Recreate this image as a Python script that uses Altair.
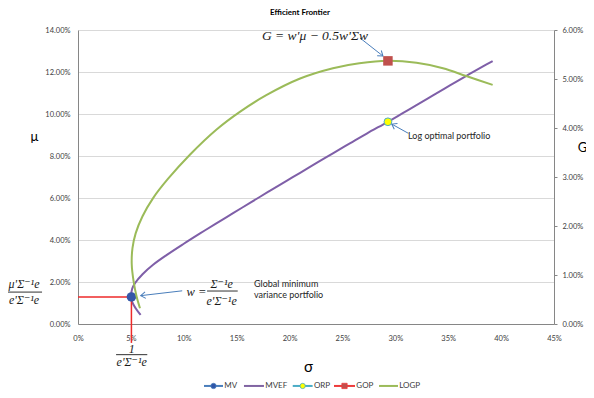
import math
import altair as alt
import pandas as pd

# ---------------- data ----------------
# Mean-variance efficient frontier (sigma %, mu %)
mvef_sigma = [5.92, 5.45, 5.12, 5.03, 5.12, 5.40, 6.10, 7.10, 8.40, 10.0, 11.5, 13.0,
              14.7, 16.3, 18.0, 19.6, 21.0, 22.6, 24.1, 25.7, 27.3, 29.3, 30.7, 32.0,
              33.6, 35.2, 36.8, 38.2, 39.2]
mvef_mu = [0.43, 0.75, 1.05, 1.31, 1.68, 1.95, 2.37, 2.82, 3.29, 3.82, 4.30, 4.77,
           5.29, 5.78, 6.30, 6.78, 7.20, 7.68, 8.13, 8.60, 9.07, 9.63, 10.04, 10.42,
           10.90, 11.37, 11.84, 12.24, 12.52]

# Log growth along the frontier (sigma %, G %) on the right axis
logp_sigma = [5.86, 5.54, 5.25, 5.08, 5.15, 5.45, 6.10, 7.10, 8.50, 10.6, 13.1, 15.3,
              17.8, 21.0, 24.1, 26.6, 29.3, 32.0, 34.5, 36.7, 39.2]
logp_g = [0.32, 0.56, 0.88, 1.22, 1.55, 1.85, 2.20, 2.57, 2.96, 3.46, 3.97, 4.33,
          4.67, 5.01, 5.22, 5.32, 5.37, 5.33, 5.22, 5.06, 4.88]

mv_sigma, mv_mu = 5.05, 1.29        # global minimum variance portfolio
orp_sigma, orp_mu = 29.3, 9.63      # log optimal portfolio on the frontier
gop_sigma, gop_g = 29.3, 5.37       # growth optimal point
red_bottom_mu = -0.9                # vertical guide runs below the axis

x_ticks = [0, 5, 10, 15, 20, 25, 30, 35, 40, 45]
mu_ticks = [0, 2, 4, 6, 8, 10, 12, 14]
g_ticks = [0, 1, 2, 3, 4, 5, 6]
series_names = ["MV", "MVEF", "ORP", "GOP", "LOGP"]

# annotations (data coordinates: sigma %, mu %)
serif_labels = ["G = w'μ − 0.5w'Σw", "w =", "Σ⁻¹e", "e'Σ⁻¹e", "μ'Σ⁻¹e", "e'Σ⁻¹e", "1", "e'Σ⁻¹e"]
serif_sigma = [22.4, 11.2, 13.58, 13.58, -5.1, -5.1, 5.08, 5.08]
serif_mu = [13.71, 1.51, 1.92, 1.10, 1.92, 1.12, -1.17, -1.82]
serif_size = [13.5, 12.5, 12, 12, 12, 12, 12, 12]

note_labels = ["Log optimal portfolio", "Global minimum", "variance portfolio"]
note_sigma = [31.2, 16.64, 16.64]
note_mu = [8.95, 1.90, 1.38]

bar_sigma1 = [12.2, -6.7, 3.6]
bar_sigma2 = [15.1, -3.4, 6.55]
bar_mu = [1.57, 1.52, -1.46]

arrow_sigma1 = [26.66, 31.23, 9.85]
arrow_mu1 = [13.62, 9.08, 1.58]
arrow_sigma2 = [28.83, 29.66, 5.93]
arrow_mu2 = [12.76, 9.52, 1.35]

# legend row below the axis (sigma %, mu % positions)
legend_line_start = [11.91, 15.69, 20.30, 24.20, 28.46]
legend_line_end = [13.71, 17.58, 22.18, 26.19, 30.25]
legend_row_mu = -2.95
legend_line_color = ["#4a7ebb", "#8064a2", "#4bacc6", "#ee3b3b", "#9bbb59"]
legend_marker = ["circle", None, "circle", "square", None]
legend_marker_fill = ["#2f55a8", None, "#ffff00", "#c0504d", None]

# ---------------- layout / style ----------------
W, H = 476, 294
X_MAX, MU_MAX, G_MAX = 45, 14, 6
FONT = "Lato"
SERIF = "Liberation Serif, DejaVu Serif, serif"
AXIS_GREY = "#868686"
ARROW = "#4a7ebb"

xs = alt.Scale(domain=[0, X_MAX], nice=False, zero=False)
ys = alt.Scale(domain=[0, MU_MAX], nice=False)
gs = alt.Scale(domain=[0, G_MAX], nice=False)

X = lambda **kw: alt.X("sigma:Q", scale=xs, **kw)
Y = lambda **kw: alt.Y("mu:Q", scale=ys, **kw)

mvef_df = pd.DataFrame({"sigma": mvef_sigma, "mu": mvef_mu, "i": range(len(mvef_sigma))})
logp_df = pd.DataFrame({"sigma": logp_sigma, "g": logp_g, "i": range(len(logp_sigma))})

x_axis = alt.Axis(values=x_ticks, labelExpr="datum.value + '%'", grid=False, ticks=False,
                  tickSize=0, labelPadding=10, labelFlush=False, domainColor=AXIS_GREY,
                  title="σ", titleFontSize=15, titleFontWeight="normal", titleFont=FONT,
                  titleColor="#000", titleX=230, titleY=42, titleAlign="center",
                  titleBaseline="middle")
y_axis = alt.Axis(orient="left", values=mu_ticks,
                  labelExpr="format(datum.value, '.2f') + '%'", grid=True, gridColor="#d9d9d9",
                  ticks=False, tickSize=0, labelPadding=8, labelFlush=False,
                  domainColor=AXIS_GREY, title="μ",
                  titleAngle=0, titleX=-44, titleY=106, titleFontSize=13,
                  titleFontWeight="normal", titleFont=FONT, titleColor="#000",
                  titleAlign="center", titleBaseline="middle")
g_axis = alt.Axis(orient="right", values=g_ticks,
                  labelExpr="format(datum.value, '.2f') + '%'", grid=False, ticks=True,
                  tickSize=3, tickColor=AXIS_GREY, labelPadding=5, labelFlush=False,
                  domainColor=AXIS_GREY,
                  title="G", titleAngle=0, titleX=28, titleY=117, titleFontSize=13,
                  titleFontWeight="normal", titleFont=FONT, titleColor="#000",
                  titleAlign="center", titleBaseline="middle")

mvef = alt.Chart(mvef_df).mark_line(color="#7f5fa8", strokeWidth=2,
                                    interpolate="catmull-rom").encode(
    x=X(axis=x_axis), y=Y(axis=y_axis), order="i:Q")

red_df = pd.DataFrame({"sigma": [0, mv_sigma], "sigma2": [mv_sigma, mv_sigma],
                       "mu": [mv_mu, mv_mu], "mu2": [mv_mu, red_bottom_mu]})
red = alt.Chart(red_df).mark_rule(color="#ee2a2a", strokeWidth=1.5).encode(
    x=X(), x2="sigma2:Q", y=Y(), y2="mu2:Q")

mv = alt.Chart(pd.DataFrame({"sigma": [mv_sigma], "mu": [mv_mu]})).mark_circle(
    size=90, color="#3557a8", opacity=1).encode(x=X(), y=Y())

orp = alt.Chart(pd.DataFrame({"sigma": [orp_sigma], "mu": [orp_mu]})).mark_point(
    shape="circle", size=60, filled=True, fill="#ffff00", stroke="#4bacc6",
    strokeWidth=1, opacity=1).encode(x=X(), y=Y())

# arrows
ang = []
for a, b, c, d in zip(arrow_sigma1, arrow_mu1, arrow_sigma2, arrow_mu2):
    dx = (c - a) * W / X_MAX
    dy = -(d - b) * H / MU_MAX
    ang.append(math.degrees(math.atan2(dy, dx)) % 360)
arrow_df = pd.DataFrame({"sigma": arrow_sigma1, "mu": arrow_mu1,
                         "sigma2": arrow_sigma2, "mu2": arrow_mu2, "angle": ang})
shafts = alt.Chart(arrow_df).mark_rule(color=ARROW, strokeWidth=1).encode(
    x=X(), y=Y(), x2="sigma2:Q", y2="mu2:Q")
heads = alt.Chart(arrow_df).mark_point(
    shape="M-1,-0.7L0,0L-1,0.7", size=90, filled=False, color=ARROW, strokeWidth=1,
    opacity=1).encode(x=alt.X("sigma2:Q", scale=xs), y=alt.Y("mu2:Q", scale=ys),
                      angle=alt.Angle("angle:Q", scale=None))

serif_df = pd.DataFrame({"sigma": serif_sigma, "mu": serif_mu, "label": serif_labels,
                         "fs": serif_size})
serif = alt.Chart(serif_df).mark_text(font=SERIF, fontStyle="italic", color="#1a1a1a",
                                      align="center", baseline="middle").encode(
    x=X(), y=Y(), text="label:N", size=alt.Size("fs:Q", scale=None, legend=None))

note_df = pd.DataFrame({"sigma": note_sigma, "mu": note_mu, "label": note_labels})
notes = alt.Chart(note_df).mark_text(font=FONT, fontSize=9, color="#262626",
                                     align="left", baseline="middle").encode(
    x=X(), y=Y(), text="label:N")

bar_df = pd.DataFrame({"sigma": bar_sigma1, "sigma2": bar_sigma2, "mu": bar_mu})
bars = alt.Chart(bar_df).mark_rule(color="#1a1a1a", strokeWidth=0.9).encode(
    x=X(), x2="sigma2:Q", y=Y())

# ---- legend row drawn from its own small table ----
leg_df = pd.DataFrame({
    "series": series_names,
    "sigma": legend_line_start,
    "sigma2": legend_line_end,
    "mid": [(a + b) / 2 for a, b in zip(legend_line_start, legend_line_end)],
    "lab": [b + 0.12 for b in legend_line_end],
    "mu": [legend_row_mu] * len(series_names),
    "col": legend_line_color,
    "shape": legend_marker,
    "fillc": legend_marker_fill,
})
leg_lines = alt.Chart(leg_df).mark_rule(strokeWidth=2).encode(
    x=X(), x2="sigma2:Q", y=Y(), color=alt.Color("col:N", scale=None, legend=None))
leg_pts = alt.Chart(leg_df).transform_filter("datum.shape != null").mark_point(
    filled=True, size=28, opacity=1, strokeWidth=0.8).encode(
    x=alt.X("mid:Q", scale=xs), y=Y(),
    shape=alt.Shape("shape:N", scale=None, legend=None),
    fill=alt.Fill("fillc:N", scale=None, legend=None),
    stroke=alt.Stroke("col:N", scale=None, legend=None))
leg_text = alt.Chart(leg_df).mark_text(font=FONT, fontSize=8, color="#404040",
                                       align="left", baseline="middle").encode(
    x=alt.X("lab:Q", scale=xs), y=Y(), text="series:N")

left = alt.layer(mvef, red, mv, orp, shafts, heads, serif, notes, bars,
                 leg_lines, leg_pts, leg_text)

logp = alt.Chart(logp_df).mark_line(color="#9bbb59", strokeWidth=2,
                                    interpolate="catmull-rom").encode(
    x=X(), y=alt.Y("g:Q", scale=gs, axis=g_axis), order="i:Q")
gop = alt.Chart(pd.DataFrame({"sigma": [gop_sigma], "g": [gop_g]})).mark_square(
    size=90, color="#c0504d", opacity=1).encode(x=X(), y=alt.Y("g:Q", scale=gs))
right = alt.layer(logp, gop)

chart = alt.layer(left, right).resolve_scale(y="independent").properties(
    width=W, height=H,
    title=alt.TitleParams("Efficient Frontier", fontSize=8, fontWeight="bold", font=FONT,
                          color="#000", anchor="middle", frame="group", dx=-16, offset=9.5),
    autosize=alt.AutoSizeParams(type="none"),
    padding={"left": 70, "top": 22, "right": 32, "bottom": 66},
).configure_view(stroke=None).configure_axis(
    labelFont=FONT, labelFontSize=7.5, labelColor="#404040"
)

chart.save("out.html", embed_options={"renderer": "svg", "actions": False})
